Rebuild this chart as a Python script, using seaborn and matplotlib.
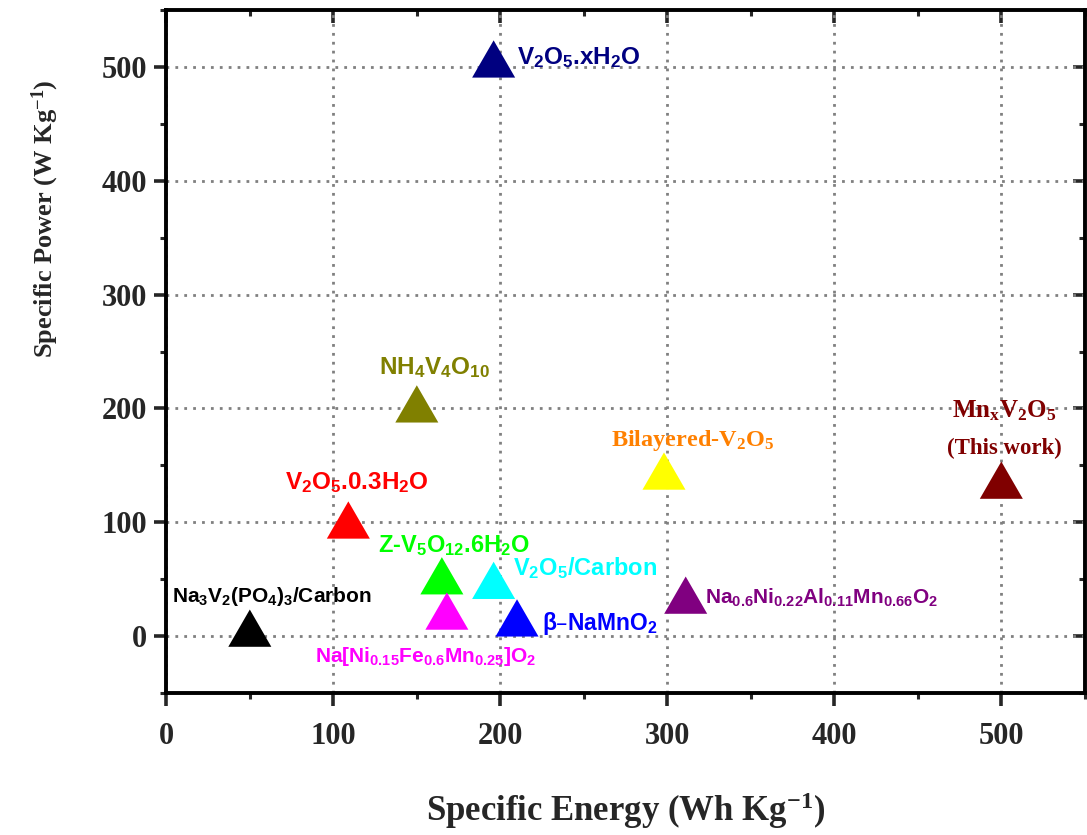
import numpy as np
import pandas as pd
import matplotlib
matplotlib.use("Agg")
import matplotlib.pyplot as plt
import seaborn as sns
from matplotlib.ticker import MultipleLocator, NullFormatter

# 材料数据
materials = ["Na3V2(PO4)3/Carbon", "V2O5.0.3H2O", "NH4V4O10", "V2O5.xH2O",
             "Z-V5O12.6H2O", "Na[Ni0.15Fe0.6Mn0.25]O2", "V2O5/Carbon",
             "b-NaMnO2", "Bilayered-V2O5", "Na0.6Ni0.22Al0.11Mn0.66O2", "MnxV2O5"]
energy = [50, 109, 150, 196, 165, 168, 196, 210, 298, 311, 500]
power = [7, 102, 204, 507, 53, 22, 49, 16, 145, 36, 137]
marker_colors = ["#000000", "#FF0000", "#808000", "#000080", "#00FF00", "#FF00FF",
                 "#00FFFF", "#0000FF", "#FFFF00", "#800080", "#800000"]
labels = [r"Na$_3$V$_2$(PO$_4$)$_3$/Carbon", r"V$_2$O$_5$.0.3H$_2$O", r"NH$_4$V$_4$O$_{10}$",
          r"V$_2$O$_5$.xH$_2$O", r"Z-V$_5$O$_{12}$.6H$_2$O",
          r"Na[Ni$_{0.15}$Fe$_{0.6}$Mn$_{0.25}$]O$_2$", r"V$_2$O$_5$/Carbon",
          r"β–NaMnO$_2$", r"Bilayered-V$_2$O$_5$",
          r"Na$_{0.6}$Ni$_{0.22}$Al$_{0.11}$Mn$_{0.66}$O$_2$", r"Mn$_x$V$_2$O$_5$"]
label_colors = ["#000000", "#FF0000", "#808000", "#000080", "#00FF00", "#FF00FF",
                "#00FFFF", "#0000FF", "#FF8000", "#800080", "#800000"]

df = pd.DataFrame({"Material": materials, "Energy": energy, "Power": power})

sns.set_theme(style="white")
plt.rcParams["mathtext.default"] = "regular"
SERIF = ["Liberation Serif", "DejaVu Serif"]
SANS = ["Liberation Sans", "DejaVu Sans"]

fig = plt.figure(figsize=(10.87, 8.35), dpi=100)
ax = fig.add_axes([0.153, 0.170, 0.845, 0.818])

# 等边三角形标记
tri = [(-1, -0.866), (1, -0.866), (0, 0.866)]
sns.scatterplot(data=df, x="Energy", y="Power", hue="Material", palette=marker_colors,
                marker=tri, s=960, linewidth=0, legend=False, ax=ax, zorder=3)

ax.set_xlim(0, 550)
ax.set_ylim(-50, 550)
ax.set_xticks(range(0, 501, 100))
ax.set_yticks(range(0, 501, 100))
ax.xaxis.set_minor_locator(MultipleLocator(50))
ax.yaxis.set_minor_locator(MultipleLocator(50))
ax.grid(True, which="major", linestyle=(0, (1, 2.2)), color="gray", linewidth=2.0)

for sp in ax.spines.values():
    sp.set_linewidth(2.8)
    sp.set_color("black")
ax.tick_params(which="major", direction="out", length=9, width=2.6, bottom=True, left=True)
ax.tick_params(which="minor", direction="out", length=4, width=2.2, bottom=True, left=True)
ax.tick_params(axis="x", pad=12)
ax.tick_params(axis="y", pad=5)
for t in ax.get_xticklabels() + ax.get_yticklabels():
    t.set_family(SERIF)
    t.set_fontweight("bold")
    t.set_fontsize(22)

# 上、右两边刻度朝内
top_ax = ax.secondary_xaxis("top")
right_ax = ax.secondary_yaxis("right")
top_ax.set_xticks(range(0, 501, 100))
top_ax.xaxis.set_minor_locator(MultipleLocator(50))
top_ax.xaxis.set_major_formatter(NullFormatter())
right_ax.set_yticks(range(0, 501, 100))
right_ax.yaxis.set_minor_locator(MultipleLocator(50))
right_ax.yaxis.set_major_formatter(NullFormatter())
for sec in (top_ax, right_ax):
    sec.tick_params(which="major", direction="in", length=9, width=2.6)
    sec.tick_params(which="minor", direction="in", length=4, width=2.2)
    for sp in sec.spines.values():
        sp.set_visible(False)

ax.set_xlabel(r"Specific Energy (Wh Kg$^{-1}$)", family=SERIF, fontweight="bold", fontsize=25)
ax.set_ylabel(r"Specific Power (W Kg$^{-1}$)", family=SERIF, fontweight="bold", fontsize=19)
ax.xaxis.set_label_coords(0.50, -0.142)
ax.yaxis.set_label_coords(-0.115, 0.695)

# 标签偏移（点）与字号
offsets = [(16, 23, "center"), (6, 27, "center"), (13, 26, "center"), (17, 1, "left"),
           (9, 22, "center"), (-15, -33, "center"), (14, 9, "left"), (18, -4, "left"),
           (21, 22, "center"), (14, -2, "left"), (2, 50, "center")]
sizes = [15, 17.5, 17.5, 17.5, 17, 15, 17, 16.5, 17.5, 15, 18]
for i, lab in enumerate(labels):
    dx, dy, ha = offsets[i]
    fam = SERIF if i in (8, 10) else SANS
    ax.annotate(lab, (energy[i], power[i]), xytext=(dx, dy), textcoords="offset points",
                ha=ha, va="center", color=label_colors[i], fontsize=sizes[i],
                fontweight="bold", family=fam, zorder=4)
ax.annotate("(This work)", (energy[-1], power[-1]), xytext=(2, 23), textcoords="offset points",
            ha="center", va="center", color=label_colors[-1], fontsize=16.5,
            fontweight="bold", family=SERIF, zorder=4)

fig.savefig("out.png", dpi=100)
